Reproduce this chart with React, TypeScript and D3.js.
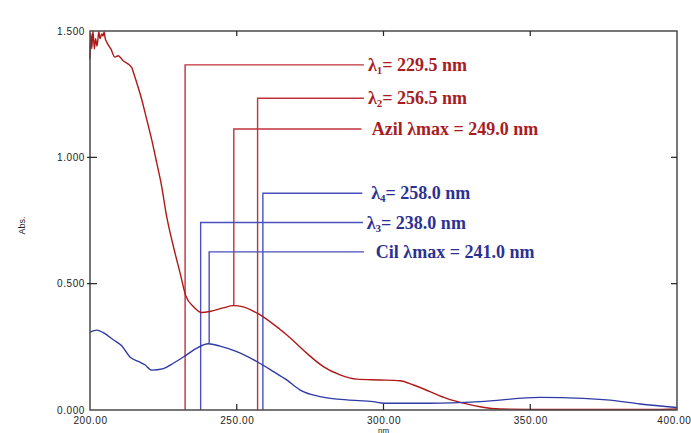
import React, { useRef, useEffect } from 'react';
import * as d3 from 'd3';

// Azil spectrum (red), wavelength nm / absorbance
const azilNm = [200.0, 200.3, 200.6, 201.0, 201.5, 201.9, 202.4, 203.0, 203.4, 204.0, 204.4, 204.8, 205.2, 205.7, 207.1, 208.5, 209.6, 211.3, 214.2, 214.8, 215.9, 217.6, 219.3, 221.0, 222.7, 224.4, 226.1, 228.4, 230.7, 232.7, 235.2, 238.1, 240.9, 245.4, 248.8, 252.2, 256.8, 261.3, 267.0, 273.8, 279.5, 285.2, 290.9, 298.8, 305.6, 310.2, 315.8, 321.5, 327.2, 332.9, 339.7, 356.7, 375.0, 390.8, 400.0];
const azilAbs = [1.389, 1.49, 1.43, 1.50, 1.429, 1.47, 1.44, 1.497, 1.47, 1.488, 1.48, 1.496, 1.47, 1.456, 1.429, 1.397, 1.402, 1.382, 1.356, 1.336, 1.296, 1.230, 1.151, 1.071, 0.980, 0.886, 0.767, 0.648, 0.542, 0.450, 0.410, 0.386, 0.390, 0.404, 0.413, 0.408, 0.384, 0.350, 0.298, 0.225, 0.172, 0.139, 0.122, 0.119, 0.116, 0.099, 0.073, 0.046, 0.027, 0.013, 0.004, 0.002, 0.002, 0.002, 0.004];

// Cil spectrum (blue)
const cilNm = [200.0, 202.3, 205.1, 207.9, 210.8, 213.6, 216.5, 218.7, 221.0, 225.0, 228.4, 232.4, 236.4, 240.3, 244.3, 250.0, 256.8, 262.5, 267.0, 271.6, 278.4, 287.5, 296.5, 300.2, 315.8, 332.9, 353.3, 368.0, 376.0, 387.4, 400.0];
const cilAbs = [0.308, 0.316, 0.302, 0.278, 0.254, 0.210, 0.192, 0.179, 0.158, 0.164, 0.185, 0.214, 0.245, 0.262, 0.253, 0.231, 0.192, 0.152, 0.119, 0.079, 0.053, 0.040, 0.033, 0.027, 0.027, 0.033, 0.050, 0.046, 0.040, 0.024, 0.010];

// marker annotations
const markLabels = ['λ1', 'λ2', 'Azil', 'λ4', 'λ3', 'Cil'];
const markText = ['229.5 nm', '256.5 nm', 'Azil λmax = 249.0 nm', '258.0 nm', '238.0 nm', 'Cil λmax = 241.0 nm'];
const markNm = [232.4, 257.1, 249.0, 258.9, 237.7, 240.6];
const markLevel = [1.366, 1.234, 1.112, 0.858, 0.742, 0.626];
const markBottom = [0, 0, 0.413, 0, 0, 0.262];
const markSeries = ['azil', 'azil', 'azil', 'cil', 'cil', 'cil'];
const markLineEnd = [293.3, 293.3, 292.5, 292.8, 293.0, 293.4];
const markTextNm = [294.7, 294.7, 296.0, 295.8, 294.3, 297.4];

const xTicks = [200, 250, 300, 350, 400];
const yTicks = [0, 0.5, 1.0, 1.5];

export default function App() {
    const svgRef = useRef(null);

    useEffect(() => {
        const width = 691, height = 433;
        const left = 90, right = 677, top = 31, bottom = 410;

        const x = d3.scaleLinear().domain([200, 400]).range([left, right]);
        const y = d3.scaleLinear().domain([0, 1.5]).range([bottom, top]);

        const svg = d3.select(svgRef.current)
            .attr('width', width)
            .attr('height', height);
        svg.selectAll('*').remove();

        const red = '#b01818', redLine = '#c0323a', redText = '#a81c22';
        const blue = '#2f3aa6', blueLine = '#4a50bd', blueText = '#2c3192';

        // marker lines
        const g = svg.append('g');
        markLabels.forEach((m, i) => {
            const isAzil = markSeries[i] === 'azil';
            const xm = x(markNm[i]), ym = y(markLevel[i]);
            g.append('path')
                .attr('d', `M${xm},${y(markBottom[i])}V${ym}H${x(markLineEnd[i])}`)
                .attr('fill', 'none')
                .attr('stroke', isAzil ? redLine : blueLine)
                .attr('stroke-width', 1.4);

            const t = g.append('text')
                .attr('x', x(markTextNm[i]))
                .attr('y', ym + 6)
                .attr('fill', isAzil ? redText : blueText)
                .attr('font-family', '"Liberation Serif", "Times New Roman", serif')
                .attr('font-weight', 'bold')
                .attr('font-size', 18);
            if (m.startsWith('λ')) {
                t.append('tspan').text('λ');
                t.append('tspan').attr('font-size', 11).attr('dy', 3).text(m.slice(1));
                t.append('tspan').attr('dy', -3).text('= ' + markText[i]);
            } else {
                t.text(markText[i]);
            }
        });

        // spectra
        const line = d3.line().curve(d3.curveMonotoneX);
        svg.append('path')
            .attr('d', line(azilNm.map((v, i) => [x(v), y(azilAbs[i])])))
            .attr('fill', 'none').attr('stroke', red).attr('stroke-width', 1.4);
        svg.append('path')
            .attr('d', line(cilNm.map((v, i) => [x(v), y(cilAbs[i])])))
            .attr('fill', 'none').attr('stroke', blue).attr('stroke-width', 1.4);

        // frame
        const axisColor = '#4a4a4a';
        svg.append('rect')
            .attr('x', left).attr('y', top)
            .attr('width', right - left).attr('height', bottom - top)
            .attr('fill', 'none').attr('stroke', axisColor).attr('stroke-width', 1.5);

        const xAxis = d3.axisBottom(x).tickValues(xTicks).tickSize(0).tickPadding(7)
            .tickFormat(d3.format('.2f'));
        const xg = svg.append('g').attr('transform', `translate(0,${bottom})`).call(xAxis);
        xg.select('.domain').remove();
        xg.selectAll('.tick text')
            .filter((d: any) => d === 400)
            .attr('text-anchor', 'end')
            .attr('dx', 14);

        const yAxis = d3.axisLeft(y).tickValues(yTicks).tickSize(0).tickPadding(5)
            .tickFormat(d3.format('.3f'));
        const yg = svg.append('g').attr('transform', `translate(${left},0)`).call(yAxis);
        yg.select('.domain').remove();

        svg.selectAll('.tick text')
            .attr('font-family', '"Liberation Sans", Arial, sans-serif')
            .attr('font-size', 10)
            .attr('letter-spacing', 0.6)
            .attr('fill', '#222');

        // inner tick marks
        const inner = [250, 300, 350];
        inner.forEach(v => {
            svg.append('line').attr('x1', x(v)).attr('x2', x(v)).attr('y1', bottom).attr('y2', bottom - 6)
                .attr('stroke', '#222').attr('stroke-width', 1.2);
            svg.append('line').attr('x1', x(v)).attr('x2', x(v)).attr('y1', top).attr('y2', top + 5)
                .attr('stroke', '#222').attr('stroke-width', 1.2);
        });
        [0.5, 1.0].forEach(v => {
            svg.append('line').attr('x1', left - 3).attr('x2', left + 7).attr('y1', y(v)).attr('y2', y(v))
                .attr('stroke', '#222').attr('stroke-width', 1.2);
            svg.append('line').attr('x1', right).attr('x2', right - 6).attr('y1', y(v)).attr('y2', y(v))
                .attr('stroke', '#222').attr('stroke-width', 1.2);
        });

        svg.append('text')
            .attr('x', x(300))
            .attr('y', height - 0.5)
            .attr('text-anchor', 'middle')
            .attr('font-family', '"Liberation Sans", Arial, sans-serif')
            .attr('font-size', 8)
            .attr('fill', '#222')
            .text('nm');

        svg.append('text')
            .attr('transform', `translate(25,${(top + bottom) / 2 + 5}) rotate(-90)`)
            .attr('text-anchor', 'middle')
            .attr('font-family', '"Liberation Sans", Arial, sans-serif')
            .attr('font-size', 9)
            .attr('fill', '#222')
            .text('Abs.');
    }, []);

    return (
        <>
            <style>{'body{margin:0}'}</style>
            <svg ref={svgRef} style={{ display: 'block', background: '#fff' }}></svg>
        </>
    );
}
